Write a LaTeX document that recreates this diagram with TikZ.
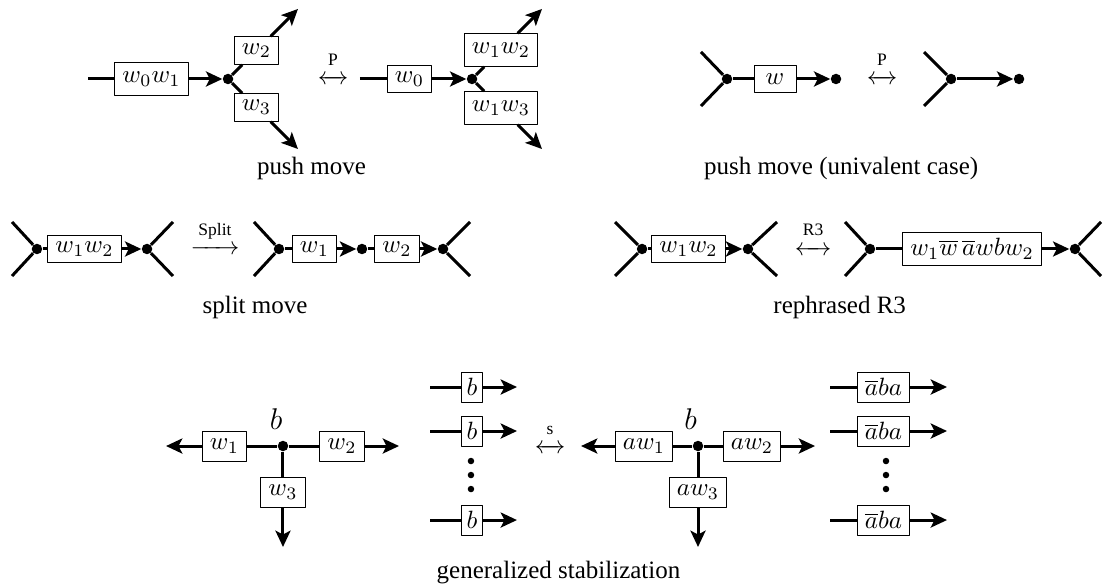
\documentclass[tikz,border=0pt]{standalone}
\usepackage{amsmath}
\usepackage{mathtools}
\usepackage{fontspec}
\setmainfont{Liberation Serif}
\usepackage{pgf,tikz}
\usetikzlibrary{arrows.meta}

\begin{document}
\begin{tikzpicture}[line join=round,>={Stealth[length=6.5pt,width=6pt,inset=1.5pt]},x=1.0cm,y=1.0cm,
  edge/.style={line width=1.2pt},
  wbox/.style={draw,fill=white,line width=0.4pt,inner xsep=3pt,inner ysep=2.5pt,minimum height=11pt},
  vtx/.style={circle,fill=black,inner sep=0pt,minimum size=4.2pt},
  movelab/.style={anchor=base,inner sep=0pt},
  movename/.style={anchor=base,inner sep=0pt,font=\scriptsize}]
\useasboundingbox (0.,0.) rectangle (15.513,8.256);
% push move
\coordinate (a0) at (1.238,7.145);
\node[wbox,minimum height=13pt] (aw) at (2.131,7.145) {$w_0w_1$};
\node[vtx] (av) at (3.207,7.145) {};
\node[wbox] (aw2) at (3.607,7.545) {$w_2$};
\node[wbox] (aw3) at (3.607,6.745) {$w_3$};
\coordinate (at2) at (4.191,8.130);
\coordinate (at3) at (4.191,6.160);
\draw[edge] (a0) -- (aw);
\draw[edge,->] (aw) -- (av);
\draw[edge] (av) -- (aw2);
\draw[edge,->] (aw2) -- (at2);
\draw[edge] (av) -- (aw3);
\draw[edge,->] (aw3) -- (at3);
\node[movelab] (pa) at (4.684,7.071) {$\smash{\xleftrightarrow{\hphantom{\text{P}}}}$};
\node[movename] (pal) at (4.684,7.335) {P};
\coordinate (b0) at (5.063,7.145);
\node[wbox] (bw) at (5.759,7.145) {$w_0$};
\node[vtx] (bv) at (6.639,7.145) {};
\node[wbox,minimum height=13pt] (bw2) at (7.046,7.552) {$w_1w_2$};
\node[wbox,minimum height=13pt] (bw3) at (7.046,6.738) {$w_1w_3$};
\coordinate (bt2) at (7.623,8.130);
\coordinate (bt3) at (7.623,6.160);
\draw[edge] (b0) -- (bw);
\draw[edge,->] (bw) -- (bv);
\draw[edge] (bv) -- (bw2);
\draw[edge,->] (bw2) -- (bt2);
\draw[edge] (bv) -- (bw3);
\draw[edge,->] (bw3) -- (bt3);
\node[movelab] (pushcap) at (4.381,5.795) {push move};
% push move, univalent case
\coordinate (c1) at (9.859,7.525);
\coordinate (c2) at (9.859,6.765);
\node[vtx] (cv) at (10.225,7.145) {};
\node[wbox,minimum width=16.8pt] (cw) at (10.900,7.145) {$w$};
\node[vtx] (ce) at (11.758,7.145) {};
\draw[edge] (c1) -- (cv);
\draw[edge] (c2) -- (cv);
\draw[edge] (cv) -- (cw);
\draw[edge,->] (cw) -- (ce);
\node[movelab] (pc) at (12.405,7.071) {$\smash{\xleftrightarrow{\hphantom{\text{P}}}}$};
\node[movename] (pcl) at (12.405,7.335) {P};
\coordinate (d1) at (12.996,7.525);
\coordinate (d2) at (12.996,6.765);
\node[vtx] (dv) at (13.376,7.145) {};
\node[vtx] (de) at (14.332,7.145) {};
\draw[edge] (d1) -- (dv);
\draw[edge] (d2) -- (dv);
\draw[edge,->] (dv) -- (de);
\node[movelab] (unicap) at (11.830,5.795) {push move (univalent case)};
% split move
\coordinate (e1) at (0.169,5.134);
\coordinate (e2) at (0.169,4.374);
\node[vtx] (ev) at (0.520,4.754) {};
\node[wbox] (ew) at (1.188,4.754) {$w_1w_2$};
\node[vtx] (eu) at (2.068,4.754) {};
\coordinate (e3) at (2.433,5.134);
\coordinate (e4) at (2.433,4.374);
\draw[edge] (e1) -- (ev);
\draw[edge] (e2) -- (ev);
\draw[edge] (ev) -- (ew);
\draw[edge,->] (ew) -- (eu);
\draw[edge] (eu) -- (e3);
\draw[edge] (eu) -- (e4);
\node[movelab] (ps) at (3.024,4.680) {$\smash{\xrightarrow{\hphantom{\text{Split}}}}$};
\node[movename] (psl) at (3.024,4.950) {Split};
\coordinate (f1) at (3.572,5.134);
\coordinate (f2) at (3.572,4.374);
\node[vtx] (fv) at (3.924,4.754) {};
\node[wbox] (fw1) at (4.423,4.754) {$w_1$};
\node[vtx] (fm) at (5.091,4.754) {};
\node[wbox] (fw2) at (5.584,4.754) {$w_2$};
\node[vtx] (fu) at (6.231,4.754) {};
\coordinate (f3) at (6.610,5.134);
\coordinate (f4) at (6.610,4.374);
\draw[edge] (f1) -- (fv);
\draw[edge] (f2) -- (fv);
\draw[edge] (fv) -- (fw1);
\draw[edge,->] (fw1) -- (fm);
\draw[edge] (fm) -- (fw2);
\draw[edge,->] (fw2) -- (fu);
\draw[edge] (fu) -- (f3);
\draw[edge] (fu) -- (f4);
\node[movelab] (splitcap) at (3.587,3.840) {split move};
% rephrased R3
\coordinate (g1) at (8.650,5.134);
\coordinate (g2) at (8.650,4.374);
\node[vtx] (gv) at (9.030,4.754) {};
\node[wbox] (gw) at (9.684,4.754) {$w_1w_2$};
\node[vtx] (gu) at (10.520,4.754) {};
\coordinate (g3) at (10.928,5.134);
\coordinate (g4) at (10.928,4.374);
\draw[edge] (g1) -- (gv);
\draw[edge] (g2) -- (gv);
\draw[edge] (gv) -- (gw);
\draw[edge,->] (gw) -- (gu);
\draw[edge] (gu) -- (g3);
\draw[edge] (gu) -- (g4);
\node[movelab] (pr) at (11.435,4.666) {$\smash{\xleftrightarrow{\hphantom{\text{R3}}}}$};
\node[movename] (prl) at (11.435,4.950) {R3};
\coordinate (h1) at (11.885,5.134);
\coordinate (h2) at (11.885,4.374);
\node[vtx] (hv) at (12.236,4.754) {};
\node[wbox] (hw) at (13.671,4.754) {$w_1\overline{w}\,\overline{a}wbw_2$};
\node[vtx] (hu) at (15.120,4.754) {};
\coordinate (h3) at (15.485,5.134);
\coordinate (h4) at (15.485,4.374);
\draw[edge] (h1) -- (hv);
\draw[edge] (h2) -- (hv);
\draw[edge] (hv) -- (hw);
\draw[edge,->] (hw) -- (hu);
\draw[edge] (hu) -- (h3);
\draw[edge] (hu) -- (h4);
\node[movelab] (r3cap) at (11.810,3.840) {rephrased R3};
% generalized stabilization
\coordinate (kl) at (2.335,1.983);
\node[wbox,minimum height=12pt] (kw1) at (3.157,1.983) {$w_1$};
\node[vtx] (kv) at (3.980,1.983) {};
\node[wbox,minimum height=12pt] (kw2) at (4.810,1.983) {$w_2$};
\coordinate (kr) at (5.612,1.983);
\node[wbox,minimum height=12pt] (kw3) at (3.980,1.336) {$w_3$};
\coordinate (kd) at (3.980,0.563);
\draw[edge,->] (kw1) -- (kl);
\draw[edge] (kv) -- (kw1);
\draw[edge] (kv) -- (kw2);
\draw[edge,->] (kw2) -- (kr);
\draw[edge] (kv) -- (kw3);
\draw[edge,->] (kw3) -- (kd);
\node (kb) at (3.882,2.356) {\fontsize{13pt}{15pt}\selectfont $b$};
\foreach \y/\n in {2.813/1,2.194/2,0.942/3} {
  \coordinate (sa\n) at (6.048,\y);
  \node[wbox,minimum height=12pt,inner xsep=2.2pt] (sb\n) at (6.639,\y) {$b$};
  \coordinate (sc\n) at (7.271,\y);
  \draw[edge] (sa\n) -- (sb\n);
  \draw[edge,->] (sb\n) -- (sc\n);
}
\foreach \y in {1.772,1.575,1.378}
  \fill (6.624,\y) circle (1.3pt);
\node[movelab] (pst) at (7.736,1.881) {$\smash{\xleftrightarrow{\hphantom{\text{s}}}}$};
\node[movename] (pstl) at (7.736,2.150) {s};
\coordinate (ml) at (8.172,1.983);
\node[wbox,minimum height=12pt] (mw1) at (9.058,1.983) {$aw_1$};
\node[vtx] (mv) at (9.817,1.983) {};
\node[wbox,minimum height=12pt] (mw2) at (10.577,1.983) {$aw_2$};
\coordinate (mr) at (11.463,1.983);
\node[wbox,minimum height=12pt] (mw3) at (9.817,1.336) {$aw_3$};
\coordinate (md) at (9.817,0.563);
\draw[edge,->] (mw1) -- (ml);
\draw[edge] (mv) -- (mw1);
\draw[edge] (mv) -- (mw2);
\draw[edge,->] (mw2) -- (mr);
\draw[edge] (mv) -- (mw3);
\draw[edge,->] (mw3) -- (md);
\node (mb) at (9.712,2.356) {\fontsize{13pt}{15pt}\selectfont $b$};
\foreach \y/\n in {2.813/1,2.194/2,0.942/3} {
  \coordinate (ta\n) at (11.674,\y);
  \node[wbox,minimum height=12pt] (tb\n) at (12.426,\y) {$\overline{a}ba$};
  \coordinate (tc\n) at (13.319,\y);
  \draw[edge] (ta\n) -- (tb\n);
  \draw[edge,->] (tb\n) -- (tc\n);
}
\foreach \y in {1.772,1.575,1.378}
  \fill (12.461,\y) circle (1.3pt);
\node[movelab] (stabcap) at (7.855,0.120) {generalized stabilization};
\end{tikzpicture}
\end{document}
